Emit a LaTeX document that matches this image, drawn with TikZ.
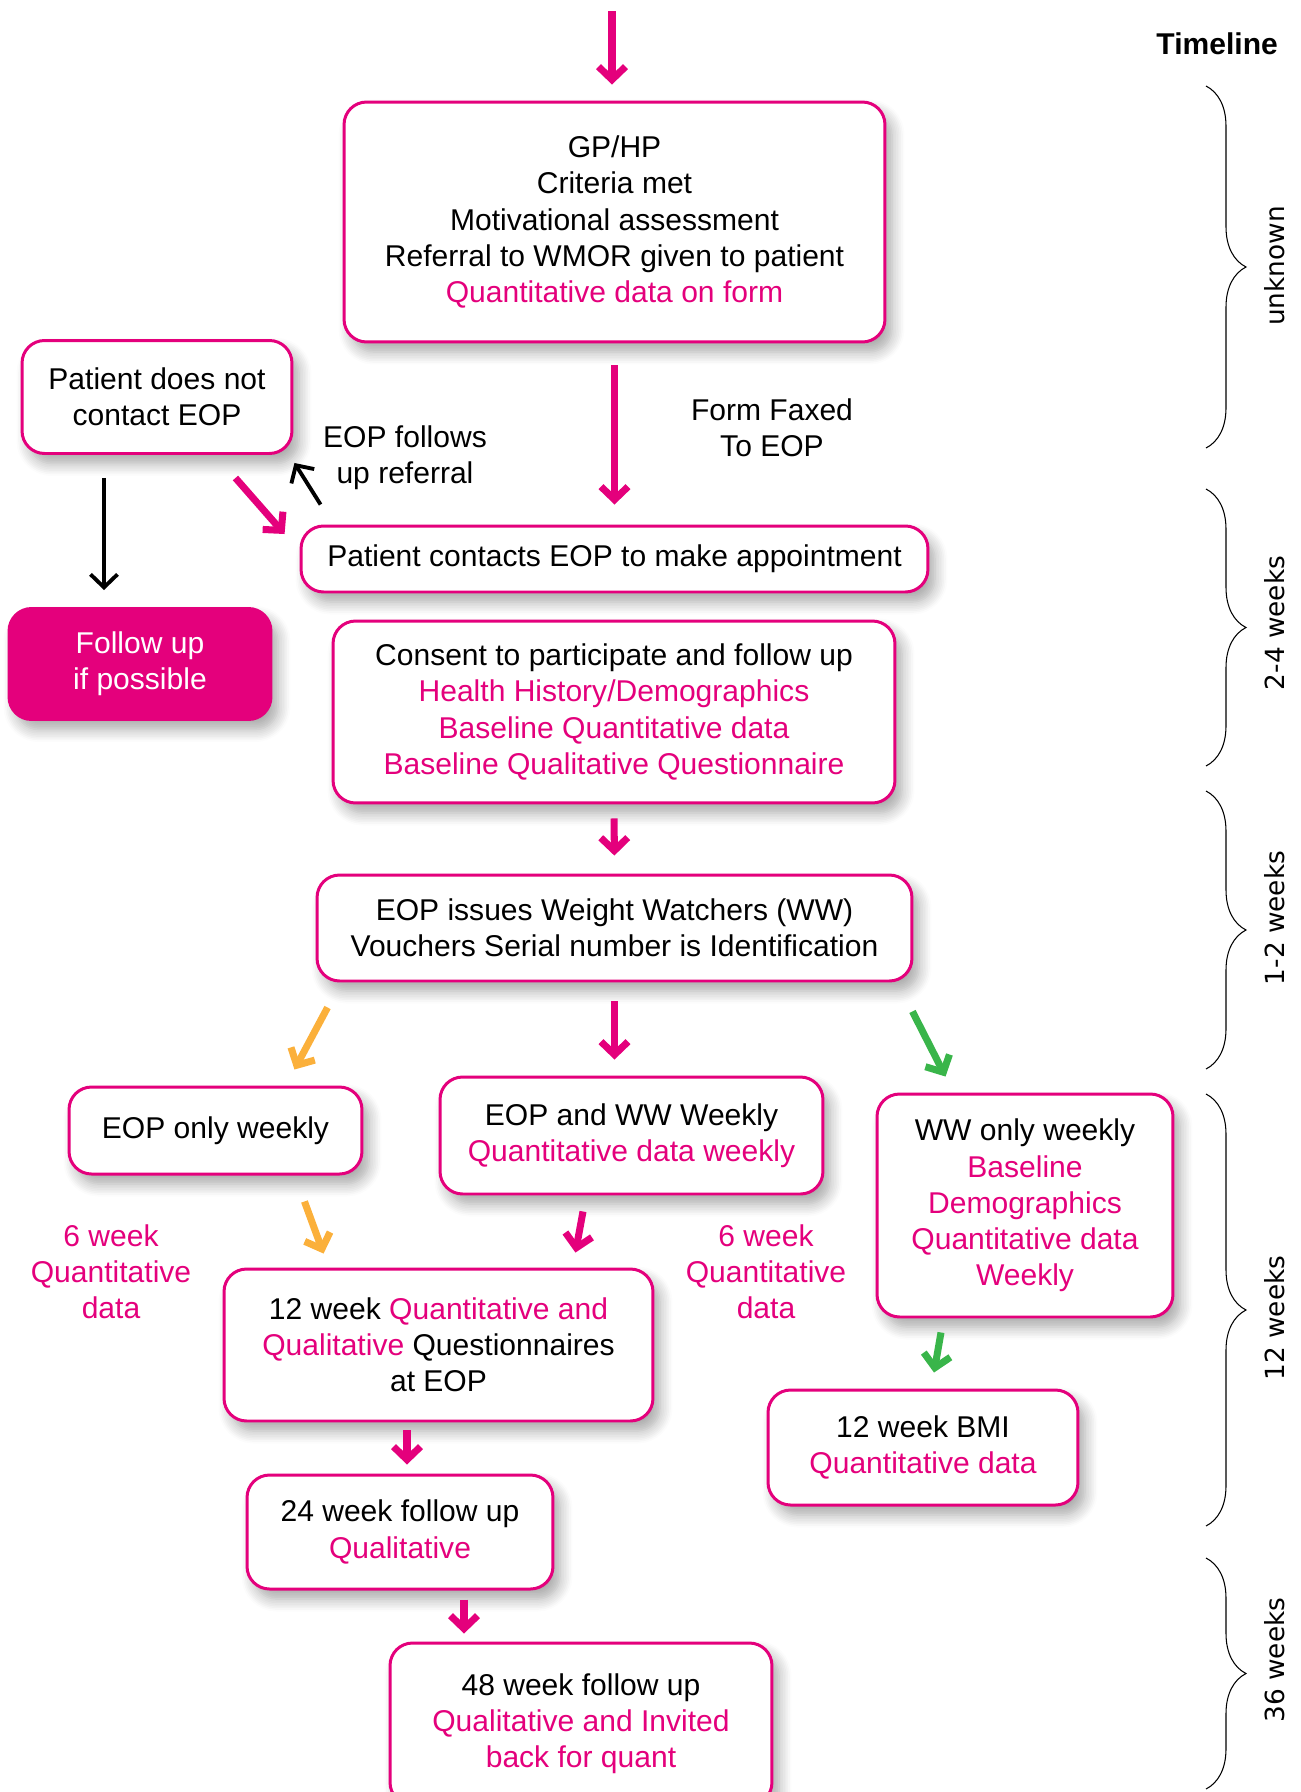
\documentclass[tikz,border=0pt]{standalone}
\usepackage{fontspec}
\setmainfont{Liberation Sans}
\newfontfamily\tlfont{DejaVu Sans}
\usepackage{tikz}
\usetikzlibrary{arrows.meta,calc,shadows,shadows.blur,decorations.pathreplacing}
\definecolor{wpink}{RGB}{228,0,124}
\definecolor{worange}{RGB}{251,176,59}
\definecolor{wgreen}{RGB}{57,181,74}
\newcommand{\q}[1]{\textcolor{wpink}{#1}}
\newcommand{\boxfont}{\fontsize{17.1pt}{20.6pt}\selectfont}
\tikzset{
  >={Straight Barb[length=2.6mm,width=5.4mm]},
  flowbox/.style={draw=wpink,line width=1.7pt,rounded corners=4.5mm,fill=white,
    align=center,font=\boxfont,inner sep=2pt,
    blur shadow={shadow xshift=1.4mm,shadow yshift=-2mm,shadow opacity=35,
      shadow blur steps=8,shadow blur radius=2.5mm}},
  fillbox/.style={flowbox,fill=wpink,text=white},
  parr/.style={->,draw=wpink,line width=4pt},
  oarr/.style={->,draw=worange,line width=4pt},
  garr/.style={->,draw=wgreen,line width=4pt},
  karr/.style={->,line width=2.2pt},
  lbl/.style={font=\boxfont,align=center},
  tbrace/.style={decorate,decoration={brace,amplitude=0.8cm},line width=0.6pt},
  tlbl/.style={font=\tlfont\fontsize{15pt}{18pt}\selectfont,rotate=90},
}

\begin{document}
\begin{tikzpicture}[x=0.02cm,y=-0.02cm]
  \useasboundingbox (0,0) rectangle (1301,1792);
  \clip (0,0) rectangle (1301,1792);

  % boxes
  \node[flowbox,minimum width=10.82cm,minimum height=4.8cm] (gphp) at (614.5,222)
    {GP/HP\\Criteria met\\Motivational assessment\\Referral to WMOR given to patient\\\q{Quantitative data on form}};
  \node[flowbox,minimum width=5.4cm,minimum height=2.26cm] (nocontact) at (157,397)
    {Patient does not\\contact EOP};
  \node[flowbox,minimum width=12.54cm,minimum height=1.32cm] (contacts) at (614.5,559)
    {Patient contacts EOP to make appointment};
  \node[fillbox,minimum width=5.24cm,minimum height=2.22cm] (followup) at (140,664)
    {Follow up\\if possible};
  \node[flowbox,minimum width=11.24cm,minimum height=3.64cm] (consent) at (614,712)
    {Consent to participate and follow up\\\q{Health History/Demographics}\\\q{Baseline Quantitative data}\\\q{Baseline Qualitative Questionnaire}};
  \node[flowbox,minimum width=11.9cm,minimum height=2.12cm] (issues) at (614.5,928)
    {EOP issues Weight Watchers (WW)\\Vouchers Serial number is Identification};
  \node[flowbox,minimum width=5.86cm,minimum height=1.74cm] (eoponly) at (215.5,1130.5)
    {EOP only weekly};
  \node[flowbox,minimum width=7.66cm,minimum height=2.34cm] (eopww) at (631.5,1135.5)
    {EOP and WW Weekly\\\q{Quantitative data weekly}};
  \node[flowbox,minimum width=5.92cm,minimum height=4.46cm] (wwonly) at (1025,1205.5)
    {WW only weekly\\\q{Baseline}\\\q{Demographics}\\\q{Quantitative data}\\\q{Weekly}};
  \node[flowbox,minimum width=8.58cm,minimum height=3.04cm] (twelve) at (438.5,1345)
    {12 week \q{Quantitative and}\\\q{Qualitative} Questionnaires\\at EOP};
  \node[flowbox,minimum width=6.2cm,minimum height=2.3cm] (bmi) at (923,1447.5)
    {12 week BMI\\\q{Quantitative data}};
  \node[flowbox,minimum width=6.12cm,minimum height=2.28cm] (twentyfour) at (400,1532)
    {24 week follow up\\\q{Qualitative}};
  \node[flowbox,minimum width=7.64cm,minimum height=3.24cm] (fortyeight) at (581,1724)
    {48 week follow up\\\q{Qualitative and Invited}\\\q{back for quant}};

  % free labels
  \node[lbl] (faxed) at (772,428) {Form Faxed\\To EOP};
  \node[lbl] (follows) at (405,458) {EOP follows\\up referral};
  \node[lbl,text=wpink] (sixleft) at (111,1272) {6 week\\Quantitative\\data};
  \node[lbl,text=wpink] (sixmid) at (766,1272) {6 week\\Quantitative\\data};
  \node[font=\boxfont\bfseries,anchor=east] (timeline) at (1284,44) {Timeline};

  % arrows
  \coordinate (entry) at (612,11);
  \draw[parr,shorten >=0.32cm] (entry) -- (entry |- gphp.north);
  \draw[parr,shorten <=0.44cm,shorten >=0.4cm] (gphp.south) -- (contacts.north);
  \draw[karr] ($(contacts.north west)+(21,-20)$) -- ($(nocontact.south east)+(1,8)$);
  \draw[parr] ($(nocontact.south east)+(-58,23)$) -- ($(contacts.west)+(-15,-25)$);
  \draw[karr] ($(nocontact.south)+(-53,23)$) -- ($(followup.north)+(-36,-17)$);
  \draw[parr,shorten <=0.28cm,shorten >=0.36cm] (consent.south) -- (issues.north);
  \draw[parr,shorten <=0.38cm,shorten >=0.32cm] (issues.south) -- (issues.south |- eopww.north);
  \draw[oarr] ($(issues.south west)+(12,25)$) -- ($(eoponly.north east)+(-69,-16)$);
  \draw[garr] ($(issues.south east)+(-1,29)$) -- ($(wwonly.north west)+(70,-16)$);
  \draw[oarr] ($(eoponly.south east)+(-59,26)$) -- ($(twelve.north west)+(101,-14)$);
  \draw[parr] ($(eopww.south)+(-48.5,16)$) -- ($(twelve.north east)+(-79,-15)$);
  \draw[garr] ($(wwonly.south)+(-84,14)$) -- ($(bmi.north)+(11,-16)$);
  \draw[parr] ($(twelve.south)+(-31.5,8)$) -- ($(twentyfour.north)+(7,-9)$);
  \draw[parr] ($(twentyfour.south)+(64,9)$) -- ($(fortyeight.north)+(-117,-8)$);

  % timeline braces
  \foreach \k/\ya/\yb/\ym/\lab in {1/86/448/266/unknown, 2/489/766/623/2-4 weeks,
      3/791/1069/918/1-2 weeks, 4/1094/1526/1318/12 weeks, 5/1558/1789/1660/36 weeks} {
    \draw[tbrace] (1206,\ya) -- (1206,\yb);
    \node[tlbl] (span\k) at (1275,\ym) {\lab};
  }
\end{tikzpicture}
\end{document}
